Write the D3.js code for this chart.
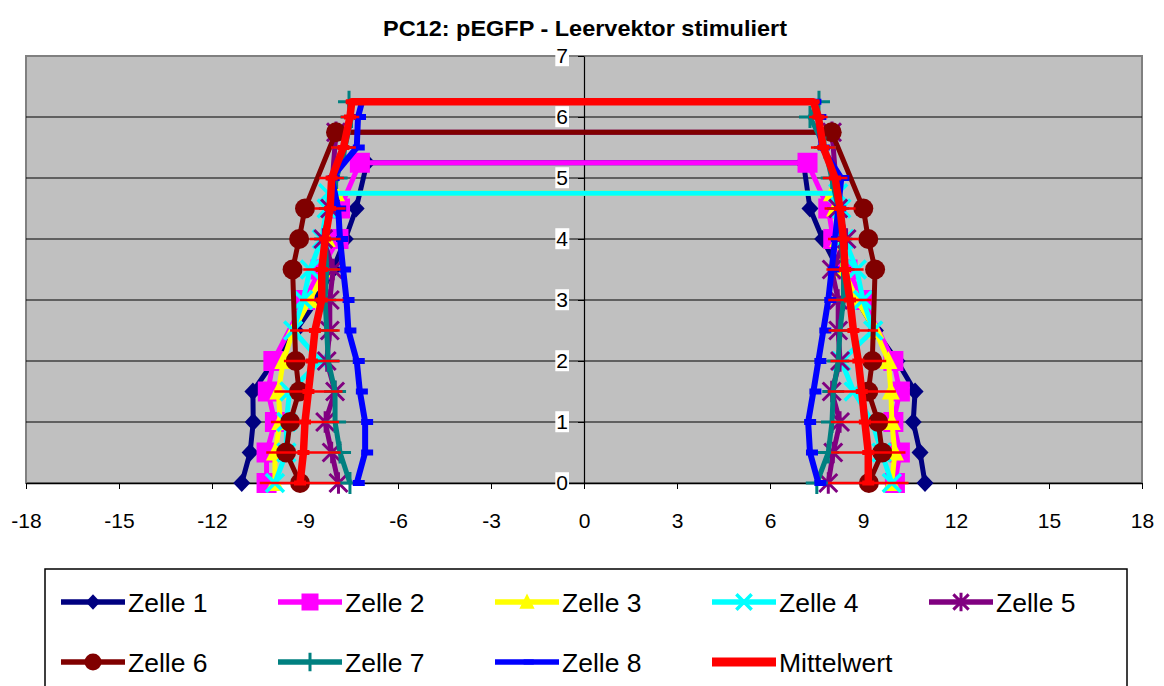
<!DOCTYPE html>
<html><head><meta charset="utf-8">
<script src="https://cdn.jsdelivr.net/npm/d3@7"></script>
<style>body{margin:0;background:#fff}svg{display:block;font-family:"Liberation Sans",Arial,sans-serif}</style>
</head><body>
<svg id="c" width="1164" height="686"></svg>
<script>
// ---- data ----
const title = "PC12: pEGFP - Leervektor stimuliert";
const xTicks = [-18,-15,-12,-9,-6,-3,0,3,6,9,12,15,18];
const yTicks = [0,1,2,3,4,5,6,7];
const seriesNames = ["Zelle 1","Zelle 2","Zelle 3","Zelle 4","Zelle 5","Zelle 6","Zelle 7","Zelle 8","Mittelwert"];

const z1Y = [0,0.5,1,1.5,2,2.5,3,3.5,4,4.5,5.25];
const z1Left  = [-11.04,-10.77,-10.67,-10.68,-10.0,-9.3,-8.6,-8.1,-7.7,-7.35,-7.0];
const z1Right = [11.0,10.84,10.62,10.68,10.1,9.4,8.8,8.2,7.7,7.29,7.08];

const z2Y = [0,0.5,1,1.5,2,3,3.5,4,4.5,5.25];
const z2Left  = [-10.24,-10.24,-9.97,-10.2,-10.02,-9.0,-8.5,-7.92,-7.87,-7.23];
const z2Right = [10.03,10.19,9.98,10.19,9.98,9.01,8.5,8.04,7.88,7.21];

const z3Y = [0,0.5,1,1.5,2,2.5,3,3.5,4,4.5,4.75];
const z3Left  = [-9.97,-9.97,-9.8,-9.86,-9.7,-9.38,-8.84,-8.35,-8.3,-8.2,-8.0];
const z3Right = [9.93,10.03,9.93,9.9,9.82,9.4,8.8,8.37,8.2,8.1,8.0];

const z4Y = [0,0.5,1,1.5,2,2.5,3,3.5,4,4.5,4.75];
const z4Left  = [-9.97,-9.6,-9.6,-9.5,-8.5,-9.38,-9.06,-8.84,-8.46,-8.3,-8.25];
const z4Right = [9.93,9.6,9.3,8.7,8.3,9.33,9.0,8.8,8.4,8.3,8.2];

const z5Y = [0,0.5,1,1.5,2,2.5,3,3.5,4,4.5,5.75];
const z5Left  = [-7.92,-8.14,-8.35,-8.03,-8.3,-8.2,-8.2,-8.09,-8.41,-8.19,-8.0];
const z5Right = [7.88,8.04,8.26,7.99,8.26,8.2,8.2,7.99,8.47,8.2,8.0];

const z6Y = [0,0.5,1,1.5,2,3.5,4,4.5,5.75];
const z6Left  = [-9.16,-9.61,-9.48,-9.19,-9.3,-9.4,-9.19,-9.0,-8.0];
const z6Right = [9.19,9.62,9.49,9.17,9.3,9.39,9.17,9.01,7.99];

const z7Y = [0,0.5,1,1.5,2,2.5,3,3.5,4,4.5,5,5.5,6,6.25];
const z7Left  = [-7.55,-7.87,-8.03,-8.03,-8.25,-8.3,-8.35,-8.3,-8.35,-8.2,-7.98,-7.71,-7.5,-7.58];
const z7Right = [7.51,7.88,8.0,8.04,8.2,8.26,8.37,8.37,8.3,8.2,7.99,7.77,7.29,7.58];

const z8Y = [0,0.5,1,1.5,2,2.5,3,3.5,4,4.5,5,5.5,6,6.25];
const z8Left  = [-7.33,-7.06,-7.06,-7.23,-7.33,-7.6,-7.66,-7.77,-7.87,-7.93,-8.14,-7.33,-7.29,-7.16];
const z8Right = [7.56,7.29,7.23,7.4,7.56,7.72,7.88,7.99,8.1,8.2,8.3,7.67,7.56,7.4];

const mwY = [0,0.5,1,1.5,2,2.5,3,3.5,4,4.5,5,5.5,6,6.25];
const mwLeft  = [-9.16,-9.05,-9.0,-8.89,-8.78,-8.68,-8.46,-8.46,-8.35,-8.19,-8.14,-7.76,-7.55,-7.49];
const mwRight = [9.17,9.17,9.06,8.96,8.85,8.69,8.58,8.42,8.37,8.26,8.1,7.72,7.56,7.4];
const mwErr   = [1.3,1.2,1.1,1.1,0.9,0.8,0.7,0.6,0.5,0.5,0.4,0.4,0.3,0.2];

// ---- build ----
const colors = ["#000080","#FF00FF","#FFFF00","#00FFFF","#800080","#800000","#008080","#0000FF","#FF0000"];
const markers = ["diamond","square","triangle","x","asterisk","circle","plus","dash","reddash"];
const widths = [5,5,5,5,5,5,5,6,7.5];
const ys = [z1Y,z2Y,z3Y,z4Y,z5Y,z6Y,z7Y,z8Y,mwY];
const lefts = [z1Left,z2Left,z3Left,z4Left,z5Left,z6Left,z7Left,z8Left,mwLeft];
const rights = [z1Right,z2Right,z3Right,z4Right,z5Right,z6Right,z7Right,z8Right,mwRight];

const svg = d3.select("#c");
const x = d3.scaleLinear().domain([-18,18]).range([26,1142]);
const y = d3.scaleLinear().domain([0,7]).range([483,56]);

svg.append("text").attr("x",585).attr("y",36).attr("text-anchor","middle")
  .attr("font-size",22.5).attr("font-weight","bold").attr("textLength",404).attr("lengthAdjust","spacingAndGlyphs").text(title);

svg.append("rect").attr("x",x(-18)).attr("y",y(7)).attr("width",x(18)-x(-18)).attr("height",y(0)-y(7))
  .attr("fill","#C0C0C0").attr("stroke","#808080").attr("stroke-width",2);

svg.append("g").selectAll("line").data(yTicks.filter(d=>d>0&&d<7)).join("line")
  .attr("x1",x(-18)).attr("x2",x(18)).attr("y1",d=>y(d)).attr("y2",d=>y(d))
  .attr("stroke","#000").attr("stroke-width",1);

const fmt = d=>String(d);
const xa = svg.append("g").attr("transform",`translate(0,${y(0)})`)
  .call(d3.axisBottom(x).tickValues(xTicks).tickFormat(fmt).tickSize(6).tickSizeOuter(0).tickPadding(24));
xa.select(".domain").attr("stroke","#000").attr("stroke-width",1.5);
xa.selectAll("line").attr("stroke","#000");
xa.selectAll("text").attr("font-size",21).attr("fill","#000").attr("font-family","Liberation Sans, Arial, sans-serif");

const ya = svg.append("g").attr("transform",`translate(${x(0)},0)`)
  .call(d3.axisLeft(y).tickValues(yTicks).tickFormat(fmt).tickSize(6).tickSizeOuter(0).tickPadding(10));
ya.select(".domain").attr("stroke","#000").attr("stroke-width",1.2);
ya.selectAll("line").attr("stroke","#000");
ya.selectAll("text").attr("font-size",21).attr("fill","#000").attr("font-family","Liberation Sans, Arial, sans-serif");
ya.selectAll(".tick").each(function(){
  const t = d3.select(this).select("text");
  const b = t.node().getBBox();
  d3.select(this).insert("rect","text").attr("x",b.x-1).attr("y",b.y+1).attr("width",b.width+2).attr("height",b.height-2).attr("fill","#fff");
});

function drawMarker(g, type, color, cx, cy, s){
  s = s || 1;
  if(type==="diamond"){
    g.append("path").attr("d",`M${cx},${cy-9*s}L${cx+8.5*s},${cy}L${cx},${cy+9*s}L${cx-8.5*s},${cy}Z`).attr("fill",color);
  } else if(type==="square"){
    g.append("rect").attr("x",cx-10*s).attr("y",cy-10*s).attr("width",20*s).attr("height",20*s).attr("fill",color);
  } else if(type==="triangle"){
    g.append("path").attr("d",`M${cx},${cy-10*s}L${cx+9*s},${cy+8*s}L${cx-9*s},${cy+8*s}Z`).attr("fill",color);
  } else if(type==="x"){
    const r=9*s;
    g.append("path").attr("d",`M${cx-r},${cy-r}L${cx+r},${cy+r}M${cx-r},${cy+r}L${cx+r},${cy-r}`).attr("stroke",color).attr("stroke-width",3.5);
  } else if(type==="asterisk"){
    const r=9*s;
    g.append("path").attr("d",`M${cx-r},${cy-r}L${cx+r},${cy+r}M${cx-r},${cy+r}L${cx+r},${cy-r}M${cx},${cy-r*1.2}L${cx},${cy+r*1.2}`).attr("stroke",color).attr("stroke-width",3);
  } else if(type==="circle"){
    g.append("circle").attr("cx",cx).attr("cy",cy).attr("r",10*s).attr("fill",color);
  } else if(type==="plus"){
    const r=11*s;
    g.append("path").attr("d",`M${cx-r},${cy}L${cx+r},${cy}M${cx},${cy-r}L${cx},${cy+r}`).attr("stroke",color).attr("stroke-width",3);
  } else if(type==="dash"){
    g.append("rect").attr("x",cx-4*s).attr("y",cy-3*s).attr("width",12*s).attr("height",6*s).attr("fill",color);
  } else if(type==="reddash"){
    g.append("rect").attr("x",cx-6*s).attr("y",cy-2.5*s).attr("width",12*s).attr("height",5*s).attr("fill",color);
  }
}

const line = d3.line().x(d=>x(d[0])).y(d=>y(d[1]));
const plot = svg.append("g");
for(let k=0;k<9;k++){
  const g = plot.append("g");
  const L = lefts[k].map((v,i)=>[v,ys[k][i]]);
  const R = rights[k].map((v,i)=>[v,ys[k][i]]).reverse();
  const pts = L.concat(R);
  if(k===8){
    mwY.forEach((yy,i)=>{
      [mwLeft[i],mwRight[i]].forEach(c=>{
        g.append("line").attr("x1",x(c-mwErr[i])).attr("x2",x(c+mwErr[i])).attr("y1",y(yy)).attr("y2",y(yy))
          .attr("stroke",colors[k]).attr("stroke-width",2.5);
      });
    });
  }
  g.append("path").attr("d",line(pts)).attr("fill","none").attr("stroke",colors[k])
    .attr("stroke-width",widths[k]).attr("stroke-linejoin","round");
  pts.forEach(p=>drawMarker(g,markers[k],colors[k],x(p[0]),y(p[1])));
}

const lg = svg.append("g");
lg.append("rect").attr("x",45).attr("y",569).attr("width",1082).attr("height",140).attr("fill","#fff").attr("stroke","#000").attr("stroke-width",1.5);
seriesNames.forEach((n,k)=>{
  const col = k%5, row = Math.floor(k/5);
  const lx = 61 + col*217, ly = 602 + row*60;
  lg.append("line").attr("x1",lx).attr("x2",lx+64).attr("y1",ly).attr("y2",ly).attr("stroke",colors[k]).attr("stroke-width",k===8?9:5.5);
  drawMarker(lg,markers[k],colors[k],lx+32,ly,0.85);
  lg.append("text").attr("x",lx+67).attr("y",ly).attr("dy","0.36em").attr("font-size",26.5).text(n);
});
</script>
</body></html>
